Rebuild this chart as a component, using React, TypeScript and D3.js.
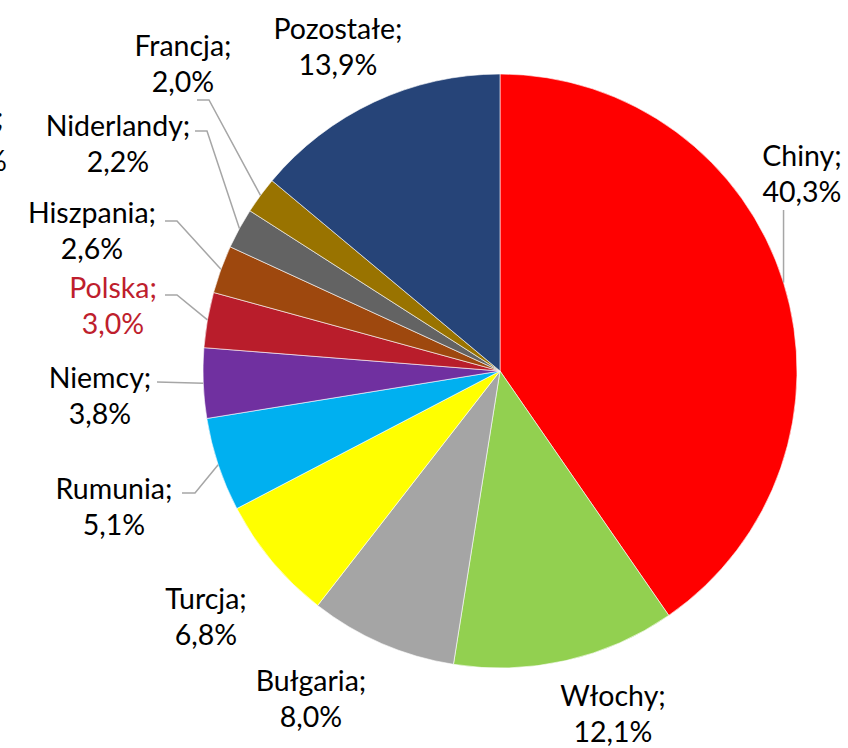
import React from "react";
import * as d3 from "d3";

const categories = ["Chiny", "Włochy", "Bułgaria", "Turcja", "Rumunia", "Niemcy", "Polska", "Hiszpania", "Niderlandy", "Francja", "Pozostałe"];
const values = [40.3, 12.1, 8.0, 6.8, 5.1, 3.8, 3.0, 2.6, 2.2, 2.0, 13.9];
const valueLabels = ["40,3%", "12,1%", "8,0%", "6,8%", "5,1%", "3,8%", "3,0%", "2,6%", "2,2%", "2,0%", "13,9%"];
const colors = ["#FF0000", "#92D050", "#A5A5A5", "#FFFF00", "#00B0F0", "#7030A0", "#B91D2B", "#9E480E", "#636363", "#997300", "#264478"];

// label layout: text center x, first line y, leader start and optional elbow
type Lay = { x: number; y: number; lead?: number[][]; color?: string };
const layout: Lay[] = [
  { x: 802, y: 155, lead: [[-1, 210]] },
  { x: 613, y: 695 },
  { x: 311, y: 680 },
  { x: 206, y: 598 },
  { x: 114, y: 488, lead: [[182, 493], [195, 493]] },
  { x: 100, y: 377, lead: [[157, 382]] },
  { x: 113, y: 287, lead: [[165, 295], [177, 295]], color: "#BE1E2D" },
  { x: 92, y: 212, lead: [[165, 221], [177, 221]] },
  { x: 118, y: 125, lead: [[195, 131], [207, 131]] },
  { x: 183, y: 45, lead: [[197, 100], [209, 100]] },
  { x: 338, y: 28 },
];

const cx = 500, cy = 371, R = 297;

export default function App() {
  const data = categories.map((c, i) => ({ c, v: values[i], i }));
  const pie = d3.pie<any>().value((d) => d.v).sort(null);
  const arcs = pie(data);
  const arc = d3.arc<any>().innerRadius(0).outerRadius(R);
  const font = "Lato, 'Open Sans', sans-serif";
  return (
    <svg width={848} height={748} style={{ position: "absolute", left: 0, top: 0 }}>
      <rect width={848} height={748} fill="#fff" />
      <g transform={`translate(${cx},${cy})`}>
        {arcs.map((a, i) => (
          <path key={i} d={arc(a) || ""} fill={colors[i]} stroke="#fff" strokeWidth={0.6} />
        ))}
      </g>
      {arcs.map((a, i) => {
        const L = layout[i];
        if (!L.lead) return null;
        const mid = (a.startAngle + a.endAngle) / 2;
        const ex = cx + R * Math.sin(mid);
        const ey = cy - R * Math.cos(mid);
        const pts = L.lead.map((p) => [p[0] < 0 ? ex : p[0], p[1]]);
        pts.push([ex, ey]);
        return (
          <polyline key={"l" + i} points={pts.map((p) => p.join(",")).join(" ")} fill="none" stroke="#A6A6A6" strokeWidth={1.5} />
        );
      })}
      {arcs.map((a, i) => {
        const L = layout[i];
        return (
          <text key={"t" + i} x={L.x} textAnchor="middle" fontFamily={font} fontSize={28.5} fill={L.color || "#000"}>
            <tspan x={L.x} y={L.y} dominantBaseline="central">{categories[i] + ";"}</tspan>
            <tspan x={L.x} y={L.y + 36} dominantBaseline="central">{valueLabels[i]}</tspan>
          </text>
        );
      })}
      <text x={-4} y={117} fontFamily={font} fontSize={28.5} dominantBaseline="central">;</text>
      <text x={-16} y={160} fontFamily={font} fontSize={28.5} dominantBaseline="central">%</text>
    </svg>
  );
}
